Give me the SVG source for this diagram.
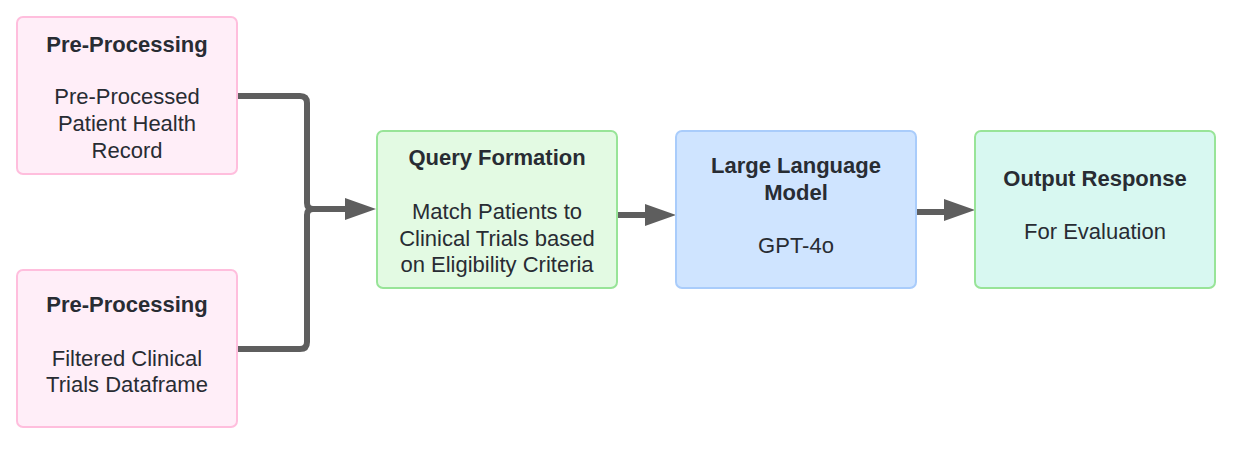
<svg xmlns="http://www.w3.org/2000/svg" width="1240" height="453" viewBox="0 0 1240 453">
<style>
.box{stroke-width:2}
.pink{fill:#ffeef8;stroke:#ffbedd}
.green{fill:#e3fae3;stroke:#98e498}
.blue{fill:#cfe4ff;stroke:#a9ccfb}
.teal{fill:#d8f8f1;stroke:#98e498}
text{font-family:"Liberation Sans",Arial,sans-serif;font-size:22px;fill:#282c33;text-anchor:middle}
.t{font-weight:bold}
.c{fill:none;stroke:#5e5e5e;stroke-width:6;stroke-linejoin:round}
</style>
<g id="connectors">
<path class="c" d="M238,96 H300 Q307,96 307,103 V203 Q307,209 313,209 H350"/>
<path class="c" d="M238,349 H300 Q307,349 307,342 V215 Q307,209 313,209"/>
<path d="M345,198 L376,209 L345,220 Z" fill="#5e5e5e"/>
<path class="c" d="M618,215 H646"/>
<path d="M645,204 L676,215 L645,226 Z" fill="#5e5e5e"/>
<path class="c" d="M917,212 H945"/>
<path d="M944,199 L975,210 L944,221 Z" fill="#5e5e5e"/>
</g>
<g id="pre1">
<rect class="box pink" x="17" y="17" width="220" height="157" rx="6"/>
<text class="t" x="127" y="52">Pre-Processing</text>
<text x="127" y="104">Pre-Processed</text>
<text x="127" y="131">Patient Health</text>
<text x="127" y="158">Record</text>
</g>
<g id="pre2">
<rect class="box pink" x="17" y="270" width="220" height="157" rx="6"/>
<text class="t" x="127" y="312">Pre-Processing</text>
<text x="127" y="366">Filtered Clinical</text>
<text x="127" y="392">Trials Dataframe</text>
</g>
<g id="query">
<rect class="box green" x="377" y="131" width="240" height="157" rx="6"/>
<text class="t" x="497" y="165">Query Formation</text>
<text x="497" y="219">Match Patients to</text>
<text x="497" y="246">Clinical Trials based</text>
<text x="497" y="272">on Eligibility Criteria</text>
</g>
<g id="llm">
<rect class="box blue" x="676" y="131" width="240" height="157" rx="6"/>
<text class="t" x="796" y="173">Large Language</text>
<text class="t" x="796" y="200">Model</text>
<text x="796" y="253">GPT-4o</text>
</g>
<g id="output">
<rect class="box teal" x="975" y="131" width="240" height="157" rx="6"/>
<text class="t" x="1095" y="186">Output Response</text>
<text x="1095" y="239">For Evaluation</text>
</g>
</svg>
